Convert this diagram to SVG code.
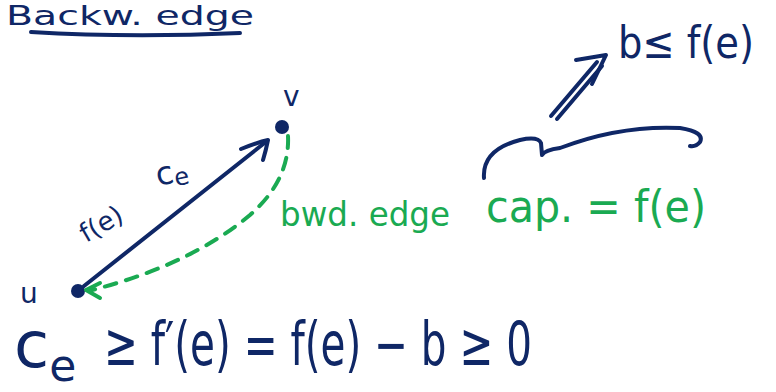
<svg xmlns="http://www.w3.org/2000/svg" width="776" height="392" viewBox="0 0 776 392">
<style>
.nv{fill:#0f2766;font-family:"DejaVu Sans","Liberation Sans",sans-serif;}
.gr{fill:#1aaa52;font-family:"DejaVu Sans","Liberation Sans",sans-serif;}
.sn{fill:none;stroke:#0f2766;stroke-width:4;stroke-linecap:round;stroke-linejoin:round;}
.sg{fill:none;stroke:#1aaa52;stroke-width:4;stroke-linecap:round;stroke-linejoin:round;}
</style>
<rect width="776" height="392" fill="#ffffff"/>
<g id="title">
<text class="nv" x="6" y="25" font-size="27" textLength="248" lengthAdjust="spacingAndGlyphs">Backw. edge</text>
<path class="sn" d="M31 32 Q130 38 240 33"/>
</g>
<g id="node-v">
<circle cx="282" cy="127" r="7" fill="#0f2766"/>
<text class="nv" x="283" y="106" font-size="28">v</text>
</g>
<g id="node-u">
<circle cx="78" cy="291" r="7" fill="#0f2766"/>
<text class="nv" x="20" y="303" font-size="28">u</text>
</g>
<g id="connectors">
<path class="sn" d="M84 286 L267 141"/>
<path class="sn" d="M241 149 Q258 142 268 140 Q266 150 263 160"/>
<path class="sg" stroke-dasharray="12 10" d="M288 136 Q290 180 250 215 Q190 265 92 290"/>
<path class="sg" d="M100 283 L86 290 L100 298"/>
</g>
<g id="edge-labels">
<text class="nv" x="158" y="186" font-size="32" transform="rotate(-12 158 186)">c<tspan font-size="24" dy="4">e</tspan></text>
<text class="nv" x="86" y="243" font-size="26" transform="rotate(-30 86 243)">f(e)</text>
</g>
<g id="bwd-label">
<text class="gr" x="280" y="226" font-size="34" textLength="170" lengthAdjust="spacingAndGlyphs">bwd. edge</text>
<text class="gr" x="486" y="222" font-size="44" textLength="220" lengthAdjust="spacingAndGlyphs">cap. = f(e)</text>
</g>
<g id="brace">
<path class="sn" d="M484 178 Q482 150 520 140 Q538 136 541 143 L542 155 Q545 150 560 148 Q620 125 680 128 Q705 132 700 142 Q696 147 690 146"/>
</g>
<g id="implication">
<path class="sn" d="M551 116 L597 62 M557 119 L602 66"/>
<path class="sn" d="M576 60 L606 55 L592 84"/>
<text class="nv" x="618" y="58" font-size="44" textLength="136" lengthAdjust="spacingAndGlyphs">b≤ f(e)</text>
</g>
<g id="inequality">
<text class="nv" x="14" y="367" font-size="64">c<tspan font-size="44" dy="14">e</tspan></text>
<text class="nv" x="104" y="365" font-size="60" textLength="428" lengthAdjust="spacingAndGlyphs">≥ f′(e) = f(e) − b ≥ 0</text>
</g>
</svg>
